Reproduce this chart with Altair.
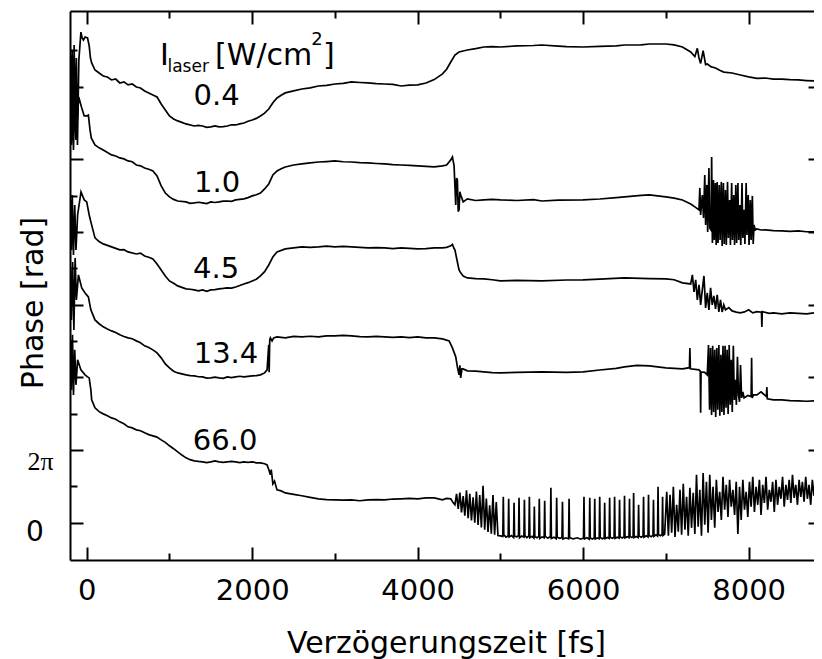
import math
import altair as alt
import pandas as pd

# ---------------- data: delay (fs), phase (rad) ----------------
TRACE_0_4 = [(-195,40.43),(-185,33.52),(-176,40.86),(-165,33.08),(-152,41.29),(-138,34.81),(-125,40.17),(-112,32.65),(-95,40.00),(-70,42.41),(-55,41.90),(-40,41.72),(-20,41.98),(10,41.90),(30,41.21),(45,40.17),(60,39.74),(100,39.13),(150,38.87),(200,38.61),(250,38.53),(300,38.27),(350,38.35),(400,38.01),(450,38.10),(500,37.84),(550,37.92),(600,37.66),(650,37.58),(700,37.32),(750,37.15),(800,36.97),(850,36.80),(900,36.19),(950,35.68),(1000,35.16),(1050,34.90),(1100,34.73),(1150,34.60),(1200,34.47),(1300,34.29),(1350,34.35),(1400,34.29),(1450,34.18),(1500,34.21),(1550,34.30),(1600,34.21),(1650,34.24),(1700,34.29),(1750,34.40),(1800,34.38),(1850,34.47),(1900,34.55),(1950,34.70),(2000,34.81),(2050,34.95),(2100,35.16),(2150,35.40),(2200,35.76),(2250,36.30),(2300,36.71),(2350,36.95),(2400,37.15),(2500,37.32),(2600,37.49),(2700,37.58),(2800,37.75),(2900,37.80),(3000,37.92),(3100,37.98),(3200,38.10),(3300,38.05),(3400,38.01),(3500,37.95),(3600,37.92),(3700,37.88),(3800,37.75),(3900,37.82),(4000,37.84),(4100,38.01),(4200,38.30),(4300,38.80),(4350,39.20),(4400,39.82),(4450,40.43),(4500,40.69),(4600,40.86),(4700,40.98),(4800,41.12),(4900,41.15),(5000,41.12),(5200,41.21),(5400,41.25),(5500,41.29),(5700,41.20),(5800,41.15),(6000,41.12),(6200,41.18),(6400,41.21),(6500,41.29),(6700,41.30),(6800,41.38),(7000,41.38),(7100,41.30),(7200,41.12),(7250,40.90),(7300,40.69),(7350,40.30),(7380,41.00),(7400,40.17),(7420,39.70),(7450,40.80),(7480,39.60),(7500,39.65),(7550,39.40),(7600,39.30),(7650,39.10),(7700,38.95),(7800,38.87),(7900,38.70),(8000,38.53),(8100,38.40),(8200,38.44),(8300,38.35),(8400,38.35),(8500,38.30),(8600,38.27),(8700,38.22),(8800,38.18),(8886,38.15)]

TRACE_1_0 = [(-195,37.40),(-185,32.65),(-172,36.97),(-160,32.22),(-145,36.54),(-130,33.08),(-97,36.80),(-60,35.85),(-30,35.16),(0,35.16),(20,35.24),(40,33.95),(55,33.26),(100,32.65),(150,32.40),(200,32.22),(300,31.79),(350,31.70),(400,31.53),(450,31.45),(500,31.27),(550,31.20),(600,30.92),(650,30.85),(700,30.66),(750,30.55),(800,30.41),(850,29.97),(900,29.11),(950,28.50),(1000,28.16),(1050,27.95),(1100,27.81),(1200,27.73),(1250,27.60),(1300,27.64),(1350,27.70),(1400,27.64),(1450,27.58),(1500,27.73),(1550,27.68),(1600,27.73),(1650,27.80),(1700,27.81),(1750,27.78),(1800,27.90),(1850,27.95),(1900,27.99),(1950,28.10),(2000,28.25),(2050,28.35),(2100,28.50),(2150,28.85),(2200,29.28),(2250,30.06),(2300,30.41),(2350,30.60),(2400,30.75),(2500,30.92),(2600,31.01),(2700,31.10),(2800,31.18),(2900,31.22),(3000,31.27),(3100,31.20),(3200,31.18),(3300,31.12),(3400,31.10),(3500,31.05),(3600,31.01),(3700,30.95),(3800,30.92),(3900,30.88),(4000,30.84),(4100,30.80),(4200,30.75),(4300,30.84),(4350,30.92),(4400,31.36),(4420,31.62),(4440,30.84),(4460,27.47),(4470,29.80),(4480,29.63),(4490,26.90),(4500,27.04),(4510,28.60),(4520,28.33),(4550,27.73),(4600,27.99),(4700,27.85),(4800,27.90),(4900,27.95),(5000,27.90),(5200,27.85),(5400,27.92),(5500,27.81),(5700,27.88),(6000,27.90),(6200,27.98),(6400,28.10),(6500,28.16),(6700,28.30),(6800,28.33),(6900,28.25),(7000,28.16),(7100,28.05),(7200,27.90),(7300,27.55),(7350,27.30),(7400,27.04),(7410,28.94),(7420,26.60),(7440,28.33),(7455,26.34),(7470,30.06),(7480,25.74),(7495,29.20),(7505,25.14),(7520,30.66),(7530,25.48),(7545,25.31),(7553,31.62),(7562,24.18),(7575,29.63),(7585,24.44),(7598,29.37),(7608,24.01),(7620,29.46),(7630,24.18),(7645,29.20),(7655,24.44),(7670,29.46),(7680,23.93),(7695,29.37),(7705,24.10),(7720,28.76),(7730,24.01),(7745,29.46),(7755,24.62),(7770,27.90),(7780,24.01),(7795,29.37),(7805,24.44),(7820,28.33),(7830,24.01),(7845,29.20),(7855,24.18),(7870,29.37),(7880,24.44),(7895,27.47),(7905,24.01),(7920,29.37),(7930,24.62),(7945,27.04),(7955,24.10),(7970,29.37),(7980,24.88),(7995,28.33),(8005,24.01),(8020,27.90),(8030,24.44),(8045,28.25),(8055,24.10),(8065,25.74),(8080,25.31),(8100,25.39),(8150,25.30),(8200,25.31),(8300,25.25),(8400,25.22),(8500,25.18),(8600,25.22),(8700,25.15),(8800,25.14),(8886,25.14)]

TRACE_4_5 = [(-195,27.90),(-185,23.58),(-175,28.33),(-160,23.15),(-145,27.47),(-130,23.58),(-110,26.60),(-69,28.59),(-30,27.90),(0,27.73),(30,26.60),(50,26.00),(100,24.62),(150,24.30),(200,24.10),(300,23.84),(400,23.58),(450,23.60),(500,23.41),(600,23.23),(650,23.30),(700,23.06),(750,22.95),(800,22.80),(850,22.37),(900,21.85),(950,21.33),(1000,20.90),(1050,20.70),(1100,20.47),(1200,20.21),(1250,20.18),(1300,20.12),(1350,20.05),(1400,20.12),(1450,20.00),(1500,20.12),(1550,20.15),(1600,20.21),(1650,20.25),(1700,20.30),(1750,20.28),(1800,20.38),(1850,20.50),(1900,20.64),(1950,20.75),(2000,20.90),(2050,21.05),(2100,21.33),(2150,21.70),(2200,22.28),(2250,22.98),(2300,23.41),(2400,23.67),(2500,23.75),(2600,23.84),(2700,23.80),(2800,23.84),(2900,23.90),(3000,23.84),(3100,23.88),(3200,23.84),(3300,23.80),(3400,23.75),(3500,23.78),(3600,23.75),(3700,23.70),(3800,23.75),(3900,23.72),(4000,23.67),(4100,23.70),(4200,23.75),(4300,23.75),(4350,23.80),(4400,23.93),(4420,24.05),(4440,23.70),(4450,23.58),(4480,22.54),(4500,21.85),(4520,21.60),(4550,21.33),(4600,21.16),(4700,21.10),(4800,21.07),(4900,21.00),(5000,20.90),(5200,20.95),(5500,20.90),(5800,20.98),(6000,20.99),(6200,21.05),(6500,21.16),(6800,21.10),(7000,21.07),(7100,21.00),(7200,20.73),(7300,20.64),(7320,21.42),(7340,19.95),(7360,20.99),(7380,19.26),(7400,20.56),(7420,18.83),(7440,20.12),(7460,21.33),(7480,18.57),(7500,19.86),(7520,18.40),(7540,20.30),(7560,18.83),(7580,19.61),(7600,18.48),(7620,19.69),(7640,18.22),(7660,19.26),(7680,18.22),(7700,18.83),(7720,18.40),(7760,18.60),(7800,18.31),(7850,18.20),(7900,18.14),(7950,18.22),(8000,18.40),(8050,18.14),(8100,18.25),(8155,18.20),(8160,16.93),(8165,18.25),(8250,18.10),(8300,18.14),(8400,18.05),(8500,18.14),(8600,18.10),(8700,18.05),(8800,18.14),(8886,18.10)]

TRACE_13_4 = [(-195,21.85),(-185,17.53),(-170,22.54),(-155,16.67),(-140,22.89),(-125,19.26),(-100,21.42),(-60,20.30),(-20,19.86),(20,19.52),(50,18.40),(100,17.53),(150,17.20),(200,16.93),(250,16.75),(300,16.58),(350,16.45),(400,16.24),(450,16.10),(500,15.98),(550,15.90),(600,15.72),(650,15.55),(700,15.29),(750,15.15),(800,14.94),(850,14.68),(900,14.25),(950,13.73),(1000,13.38),(1050,13.10),(1100,12.95),(1200,12.78),(1250,12.72),(1300,12.69),(1350,12.62),(1400,12.61),(1450,12.50),(1500,12.52),(1550,12.58),(1600,12.52),(1650,12.48),(1700,12.61),(1750,12.55),(1800,12.61),(1850,12.66),(1900,12.61),(1950,12.65),(2000,12.69),(2050,12.72),(2100,12.78),(2150,12.95),(2180,13.21),(2200,15.37),(2205,13.00),(2212,15.80),(2220,15.98),(2240,15.72),(2260,15.98),(2300,16.06),(2400,15.98),(2500,16.10),(2600,16.06),(2700,16.12),(2800,16.06),(2900,16.15),(3000,16.15),(3100,16.20),(3200,16.15),(3300,16.08),(3400,16.06),(3500,16.10),(3600,16.06),(3700,16.02),(3800,16.06),(3900,16.00),(4000,16.06),(4100,15.98),(4200,15.98),(4300,15.89),(4380,15.72),(4420,15.11),(4460,14.34),(4480,13.47),(4500,12.78),(4510,13.60),(4520,12.52),(4535,13.30),(4550,13.30),(4600,13.13),(4700,13.10),(4800,13.04),(4900,12.98),(5000,12.95),(5200,13.00),(5500,13.04),(5800,13.00),(6000,13.04),(6200,13.20),(6400,13.35),(6500,13.47),(6650,13.60),(6800,13.56),(7000,13.38),(7200,13.30),(7284,13.40),(7290,15.11),(7296,13.30),(7400,13.21),(7415,13.10),(7420,9.50),(7425,13.04),(7470,13.00),(7500,12.78),(7515,15.37),(7528,9.76),(7540,15.11),(7552,9.32),(7565,15.29),(7577,9.58),(7590,14.94),(7602,9.15),(7615,15.11),(7627,9.76),(7640,15.37),(7652,9.24),(7665,14.51),(7677,9.58),(7690,15.29),(7702,9.32),(7715,15.29),(7727,9.93),(7740,14.94),(7752,9.41),(7765,15.37),(7777,10.19),(7790,14.08),(7802,9.58),(7815,15.29),(7827,10.62),(7840,12.35),(7852,10.19),(7865,14.34),(7877,11.05),(7890,10.45),(7902,13.64),(7915,10.79),(7930,11.31),(7945,10.79),(7990,11.00),(8030,10.90),(8036,14.25),(8042,10.79),(8060,11.05),(8100,11.05),(8150,11.31),(8215,10.90),(8220,11.74),(8226,10.71),(8300,10.62),(8400,10.62),(8500,10.55),(8600,10.53),(8700,10.50),(8800,10.53),(8886,10.53)]

TRACE_66_0 = [(-195,15.80),(-185,11.48),(-172,16.24),(-160,11.05),(-145,14.94),(-130,11.92),(-110,14.08),(-70,13.21),(-20,12.78),(10,12.61),(30,12.52),(50,11.48),(60,10.62),(100,9.93),(150,9.60),(200,9.41),(250,9.25),(300,9.06),(350,8.95),(400,8.72),(450,8.55),(500,8.29),(550,8.20),(600,8.03),(650,7.95),(700,7.77),(750,7.62),(800,7.51),(850,7.40),(900,7.16),(950,6.95),(1000,6.65),(1050,6.40),(1100,6.13),(1150,5.85),(1200,5.61),(1250,5.45),(1300,5.35),(1350,5.30),(1400,5.26),(1450,5.20),(1500,5.26),(1550,5.35),(1600,5.26),(1650,5.22),(1700,5.26),(1750,5.30),(1800,5.26),(1850,5.20),(1900,5.26),(1950,5.22),(2000,5.26),(2050,5.18),(2100,5.18),(2150,5.10),(2180,5.00),(2200,4.60),(2220,4.14),(2230,4.60),(2250,3.36),(2270,3.60),(2300,2.84),(2350,2.75),(2400,2.58),(2500,2.45),(2600,2.33),(2700,2.20),(2800,2.07),(2900,2.00),(3000,1.98),(3100,1.95),(3200,1.98),(3300,1.90),(3400,1.98),(3500,2.00),(3600,1.98),(3700,2.05),(3800,2.07),(3900,2.10),(4000,2.07),(4100,2.15),(4200,2.15),(4300,1.98),(4350,2.10),(4400,2.07),(4430,1.72),(4450,1.55),
    (4470,2.50),(4490,1.20),(4510,2.60),(4530,0.90),(4550,2.30),(4570,0.60),(4590,2.80),(4610,0.40),(4630,2.50),(4650,0.20),(4670,2.20),(4690,0.00),(4710,2.70),(4730,-0.20),(4750,2.40),(4770,-0.40),(4790,3.20),(4810,-0.60),(4830,2.10),(4850,-0.80),(4870,1.50),(4890,-0.95),(4910,2.40),(4930,-1.04),(4950,1.80),(4970,-1.10),
    (5000,-1.13),
    (5029,-1.18),(5035,2.24),(5041,-1.05),(5068,-1.25),(5094,-1.12),(5100,2.07),(5106,-1.22),(5133,-1.10),
    (5159,-1.28),(5165,1.72),(5171,-1.15),(5198,-1.22),(5219,-1.10),(5225,2.15),(5231,-1.30),(5258,-1.15),
    (5284,-1.25),(5290,1.98),(5296,-1.12),(5320,-1.28),(5344,-1.15),(5350,2.24),(5356,-1.30),(5383,-1.18),
    (5404,-1.32),(5410,1.40),(5416,-1.20),(5443,-1.30),(5464,-1.18),(5470,2.07),(5476,-1.35),(5503,-1.22),
    (5529,-1.30),(5535,1.90),(5541,-1.18),(5572,-1.33),(5604,-1.22),(5610,3.02),(5616,-1.35),(5648,-1.25),
    (5674,-1.38),(5680,2.15),(5686,-1.25),(5716,-1.35),(5744,-1.28),(5750,1.81),(5756,-1.40),(5790,-1.30),
    (5824,-1.38),(5830,2.07),(5836,-1.28),(5880,-1.40),(5930,-1.30),(5970,-1.42),
    (6004,-1.32),(6010,2.24),(6016,-1.40),(6045,-1.30),(6074,-1.42),(6080,2.15),(6086,-1.32),(6112,-1.40),
    (6134,-1.30),(6140,2.07),(6146,-1.40),(6172,-1.32),(6194,-1.38),(6200,2.24),(6206,-1.28),(6232,-1.38),
    (6254,-1.30),(6260,1.72),(6266,-1.38),(6292,-1.28),(6314,-1.36),(6320,2.15),(6326,-1.26),(6352,-1.35),
    (6374,-1.25),(6380,2.24),(6386,-1.35),(6412,-1.25),(6434,-1.33),(6440,1.98),(6446,-1.22),(6472,-1.32),
    (6494,-1.22),(6500,2.33),(6506,-1.30),(6532,-1.20),(6554,-1.30),(6560,2.07),(6566,-1.18),(6588,-1.28),
    (6604,-1.20),(6610,2.58),(6616,-1.28),(6642,-1.18),(6664,-1.27),(6670,1.55),(6676,-1.15),(6702,-1.25),
    (6724,-1.15),(6730,2.24),(6736,-1.25),(6762,-1.12),(6784,-1.22),(6790,2.41),(6796,-1.10),(6822,-1.20),
    (6844,-1.08),(6850,1.98),(6856,-1.18),(6880,-1.05),(6899,-1.15),(6905,3.10),(6911,-1.02),(6935,-1.12),
    (6954,-1.00),(6960,2.24),(6966,-1.10),(6985,-0.98),
    (7010,2.67),(7030,-1.13),(7050,2.41),(7070,-0.87),(7090,3.10),(7110,-1.22),(7130,1.55),(7150,-0.78),(7170,2.84),(7190,-1.04),(7210,3.36),(7230,-0.61),(7250,2.24),(7270,-1.13),(7290,3.02),(7310,-0.44),(7330,2.58),(7350,-0.96),(7370,4.14),(7390,-0.35),(7410,2.84),(7430,-1.13),(7450,4.30),(7470,-0.18),(7490,3.54),(7510,-0.87),(7530,4.14),(7550,0.25),(7570,3.10),(7590,-0.44),
    (7610,3.71),(7630,0.94),(7650,2.67),(7670,0.25),(7690,3.97),(7710,1.12),(7730,3.28),(7750,0.51),(7770,3.71),(7790,1.38),(7810,2.84),(7830,0.68),(7850,3.54),(7870,-0.96),(7890,3.10),(7910,0.25),(7930,3.71),(7950,1.12),(7970,2.67),(7990,0.51),(8010,3.54),(8030,1.38),(8050,3.97),(8070,0.94),(8090,3.10),(8110,1.55),(8130,3.71),(8150,0.68),(8170,3.28),(8190,1.72),(8210,3.97),(8230,1.12),(8250,2.84),(8270,1.81),(8290,3.54),(8310,0.94),(8330,3.71),(8350,1.55),(8370,3.10),(8390,2.07),(8410,3.97),(8430,1.38),(8450,3.28),(8470,1.98),(8490,3.71),(8510,1.72),(8530,4.14),(8550,2.15),(8570,3.28),(8590,1.55),(8610,3.71),(8630,2.24),(8650,3.54),(8670,1.81),(8690,3.97),(8710,2.07),(8730,3.28),(8750,1.55),(8770,3.71),(8790,2.33),(8810,3.54),(8830,1.98),(8850,3.71),(8870,2.41),(8886,3.10)]

SERIES = ["0.4", "1.0", "4.5", "13.4", "66.0"]
TRACES = [TRACE_0_4, TRACE_1_0, TRACE_4_5, TRACE_13_4, TRACE_66_0]

# intensity labels (delay of text centre, phase at text baseline)
LABEL_T = [1569, 1575, 1563, 1683, 1672]
LABEL_P = [36.11, 28.59, 21.16, 13.82, 6.30]

X_MAJOR = [0, 2000, 4000, 6000, 8000]
X_MINOR = [1000, 3000, 5000, 7000]
Y_MAJOR = [k * 2 * math.pi for k in range(0, 7)]
Y_MINOR = [(2 * k + 1) * math.pi for k in range(0, 7)]

X_DOMAIN = [-202, 8790]
Y_DOMAIN = [-3.22, 44.23]
W, H = 744, 549
FONT = "DejaVu Sans"

rows = []
for name, tr in zip(SERIES, TRACES):
    for t, p in tr:
        rows.append({"t": t, "phase": p, "series": name})
df = pd.DataFrame(rows)

xs = alt.Scale(domain=X_DOMAIN, nice=False, zero=False)
ys = alt.Scale(domain=Y_DOMAIN, nice=False, zero=False)

lines = alt.Chart(df).mark_line(color="black", strokeWidth=1.7, clip=True).encode(
    x=alt.X("t:Q", scale=xs, axis=alt.Axis(
        orient="bottom", values=X_MAJOR, format="d", ticks=False, domain=True,
        domainColor="black", domainWidth=2, grid=False, labelFont=FONT, labelFontSize=29,
        labelColor="black", labelPadding=16, labelFlush=False, labelOverlap=False,
        title="Verzögerungszeit [fs]", titleFont=FONT, titleFontSize=30,
        titleFontWeight="normal", titleColor="black", titleX=376, titleY=92,
        titleAlign="center", titleBaseline="alphabetic")),
    y=alt.Y("phase:Q", scale=ys, axis=alt.Axis(
        orient="left", ticks=False, labels=False, domain=True, domainColor="black",
        domainWidth=2, grid=False, title="Phase [rad]", titleFont=FONT, titleFontSize=30,
        titleFontWeight="normal", titleColor="black", titleAngle=270, titleX=-28,
        titleY=291.5, titleAlign="center", titleBaseline="alphabetic")),
    detail="series:N",
)

anchor = pd.DataFrame({"t": [0], "phase": [0.0]})


def tick_axis(orient, offset, values, size, domain=False):
    return alt.Axis(orient=orient, offset=offset, values=values, tickSize=size,
                    tickWidth=2, tickColor="black", labels=False, domain=domain,
                    domainColor="black", domainWidth=2, grid=False, title=None)


def tick_layer(xaxis, yaxis):
    return alt.Chart(anchor).mark_point(opacity=0).encode(
        x=alt.X("t:Q", scale=xs, axis=xaxis),
        y=alt.Y("phase:Q", scale=ys, axis=yaxis),
    )


# inward ticks: bottom & left
tA = tick_layer(tick_axis("top", -H, X_MAJOR, 13), tick_axis("right", -W, Y_MAJOR, 13))
tB = tick_layer(tick_axis("top", -H, X_MINOR, 7), tick_axis("right", -W, Y_MINOR, 7))
# inward ticks: top (with top border)
tC = tick_layer(tick_axis("bottom", -H, X_MAJOR, 13, domain=True), None)
tD = tick_layer(tick_axis("bottom", -H, X_MINOR, 7), None)
# short inward ticks at the right edge
tE = tick_layer(None, tick_axis("left", -W, Y_MAJOR, 6))

# y tick labels
ylab0 = alt.Chart(pd.DataFrame({"phase": [0.0], "txt": ["0"]})).mark_text(
    font=FONT, fontSize=28, align="center", baseline="top", dy=-4, color="black"
).encode(x=alt.value(-35), y=alt.Y("phase:Q", scale=ys, axis=None), text="txt:N")
ylab2 = alt.Chart(pd.DataFrame({"phase": [2 * math.pi], "txt": ["2π"]})).mark_text(
    font="Liberation Serif", fontSize=26, align="center", baseline="top", dy=-1, color="black"
).encode(x=alt.value(-29.5), y=alt.Y("phase:Q", scale=ys, axis=None), text="txt:N")

# intensity labels
lab_df = pd.DataFrame({"t": LABEL_T, "phase": LABEL_P, "txt": SERIES})
labels = alt.Chart(lab_df).mark_text(
    font=FONT, fontSize=29, align="center", baseline="alphabetic", color="black"
).encode(x=alt.X("t:Q", scale=xs, axis=None), y=alt.Y("phase:Q", scale=ys, axis=None), text="txt:N")

# header  I_laser [W/cm^2]
head_df = pd.DataFrame({
    "txt": ["I", "laser", "[W/cm", "2", "]"],
    "t": [886, 976, 1551, 2713, 2856],
    "phase": [39.56, 38.96, 39.56, 41.29, 39.56],
    "fs": [30, 17, 30, 18, 30],
})
header = alt.Chart(head_df).mark_text(
    font=FONT, align="left", baseline="alphabetic", color="black"
).encode(
    x=alt.X("t:Q", scale=xs, axis=None),
    y=alt.Y("phase:Q", scale=ys, axis=None),
    text="txt:N",
    size=alt.Size("fs:Q", scale=None, legend=None),
)

chart = alt.layer(lines, tA, tB, tC, tD, tE, ylab0, ylab2, labels, header).resolve_axis(
    x="independent", y="independent"
).properties(
    width=W, height=H,
    padding={"left": 62, "top": 3, "right": 0, "bottom": 99},
    autosize=alt.AutoSizeParams(type="none"),
).configure_view(stroke="transparent", strokeWidth=0)

chart.save("out.html", embed_options={"renderer": "svg", "actions": False})
